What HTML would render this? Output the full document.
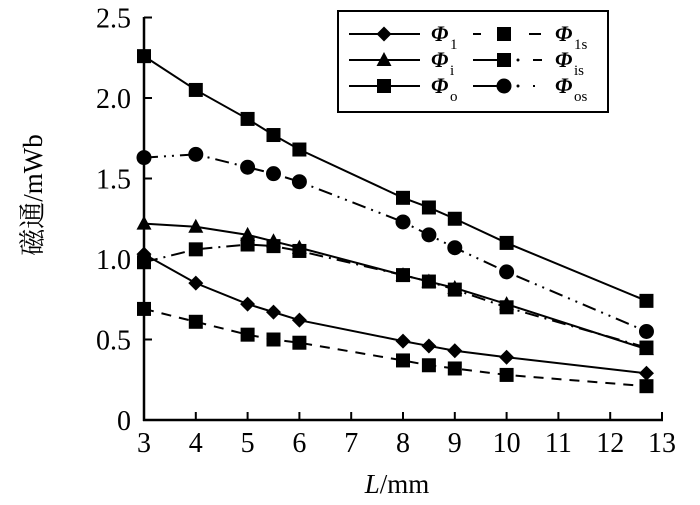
<!DOCTYPE html>
<html><head><meta charset="utf-8"><style>
body{margin:0;background:#fff;width:700px;height:500px;overflow:hidden}
svg text{font-family:"Liberation Serif","Noto Serif CJK SC",serif;fill:#000}
</style></head><body>
<svg id="s" width="700" height="500" xmlns="http://www.w3.org/2000/svg"></svg>
<script>
const s=document.getElementById('s');let h='';
const X=v=>144+(v-3)*51.8, Y=v=>420-v*161;
h+=`<line x1="144" y1="17" x2="144" y2="421" stroke="#000" stroke-width="2.5"/>`;
h+=`<line x1="143" y1="420" x2="663" y2="420" stroke="#000" stroke-width="2.5"/>`;
for(let i=3;i<=13;i++){h+=`<line x1="${X(i)}" y1="420" x2="${X(i)}" y2="412" stroke="#000" stroke-width="2"/><text x="${X(i)}" y="452" font-size="28" text-anchor="middle">${i}</text>`;}
['0','0.5','1.0','1.5','2.0','2.5'].forEach((t,i)=>{const y=Y(i*0.5);h+=`<line x1="144" y1="${y}" x2="152" y2="${y}" stroke="#000" stroke-width="2"/><text x="131" y="${y+10}" font-size="28" text-anchor="end">${t}</text>`;});
h+=`<text x="397" y="493" font-size="27" text-anchor="middle"><tspan font-style="italic">L</tspan>/mm</text>`;
h+=`<text transform="translate(42,195) rotate(-90)" font-size="27" text-anchor="middle">磁通/mWb</text>`;
const xs=[3,4,5,5.5,6,8,8.5,9,10,12.7];
const S=[
 {d:[2.26,2.05,1.87,1.77,1.68,1.38,1.32,1.25,1.10,0.74],m:'sq',da:''},
 {d:[1.63,1.65,1.57,1.53,1.48,1.23,1.15,1.07,0.92,0.55],m:'ci',da:'14,6,2,6,2,6'},
 {d:[1.22,1.20,1.15,1.11,1.07,0.90,0.86,0.82,0.72,0.44],m:'tr',da:''},
 {d:[0.98,1.06,1.09,1.08,1.05,0.90,0.86,0.81,0.70,0.45],m:'sq',da:'14,6,2,6'},
 {d:[1.03,0.85,0.72,0.67,0.62,0.49,0.46,0.43,0.39,0.29],m:'di',da:''},
 {d:[0.69,0.61,0.53,0.50,0.48,0.37,0.34,0.32,0.28,0.21],m:'sq',da:'10,8'}];
function mk(m,x,y){
 if(m=='sq')return `<rect x="${x-7}" y="${y-7}" width="14" height="14" fill="#000"/>`;
 if(m=='ci')return `<circle cx="${x}" cy="${y}" r="7.5" fill="#000"/>`;
 if(m=='tr')return `<polygon points="${x},${y-8} ${x-7.5},${y+6} ${x+7.5},${y+6}" fill="#000"/>`;
 return `<polygon points="${x},${y-7.5} ${x+7.5},${y} ${x},${y+7.5} ${x-7.5},${y}" fill="#000"/>`;}
S.forEach(o=>{const p=xs.map((x,i)=>X(x)+','+Y(o.d[i])).join(' ');
 h+=`<polyline points="${p}" fill="none" stroke="#000" stroke-width="2" ${o.da?`stroke-dasharray="${o.da}"`:''}/>`;
 xs.forEach((x,i)=>h+=mk(o.m,X(x),Y(o.d[i])));});
h+=`<rect x="338" y="11" width="270" height="101" fill="#fff" stroke="#000" stroke-width="2"/>`;
const L=[[0,'di','','1'],[0,'tr','','i'],[0,'sq','','o'],[1,'sq','6,20','1s'],[1,'sq','','is'],[1,'ci','','os']];
L.forEach((l,i)=>{const r=i%3,y=34+r*26,x0=l[0]?473:349,x1=l[0]?535:420,xm=l[0]?504:384;
 if(l[0]&&r>0){h+=`<line x1="473" y1="${y}" x2="504" y2="${y}" stroke="#000" stroke-width="2"/><circle cx="518" cy="${y}" r="1.5"/><line x1="533" y1="${y}" x2="542" y2="${y}" stroke="#000" stroke-width="2" ${r==2?'stroke-dasharray="2,8"':''}/>`;}
 else if(l[0]){h+=`<line x1="473" y1="${y}" x2="481" y2="${y}" stroke="#000" stroke-width="2"/><line x1="529" y1="${y}" x2="541" y2="${y}" stroke="#000" stroke-width="2"/>`;}
 else h+=`<line x1="${x0}" y1="${y}" x2="${x1}" y2="${y}" stroke="#000" stroke-width="2"/>`;
 h+=mk(l[1],xm,y);
 const tX=l[0]?555:431;
 h+=`<text x="${tX}" y="${y+7}" font-size="22" font-style="italic" font-weight="bold">Φ</text><text x="${tX+19}" y="${y+15}" font-size="15">${l[3]}</text>`;});
s.innerHTML=h;
</script>
</body></html>
